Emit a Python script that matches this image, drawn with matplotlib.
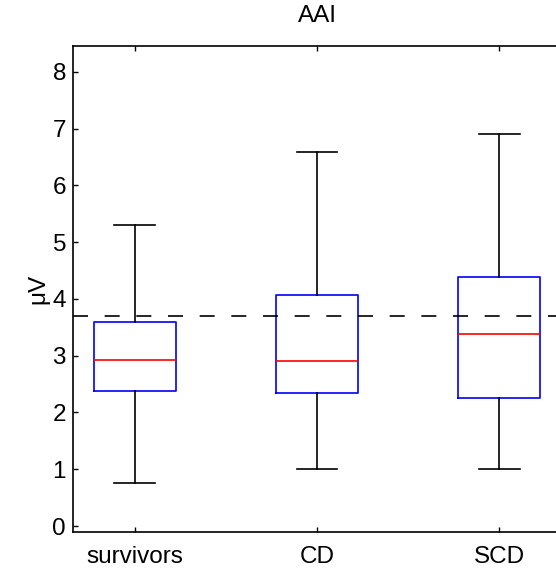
import matplotlib
matplotlib.use("Agg")
import matplotlib.pyplot as plt

plt.rcParams['font.family'] = ['Liberation Sans', 'DejaVu Sans']

# Group names and box statistics (µV)
groups = ["survivors", "CD", "SCD"]
medians = [2.93, 2.90, 3.38]
q1 = [2.38, 2.35, 2.25]
q3 = [3.59, 4.07, 4.38]
whisker_low = [0.76, 1.00, 1.00]
whisker_high = [5.31, 6.59, 6.90]
reference_level = 3.70

stats = []
for name, med, lo_q, hi_q, wl, wh in zip(groups, medians, q1, q3, whisker_low, whisker_high):
    stats.append(dict(label=name, med=med, q1=lo_q, q3=hi_q,
                      whislo=wl, whishi=wh, fliers=[]))

W, H = 556, 570
fig = plt.figure(figsize=(W / 100, H / 100), dpi=100)
left, right, top, bottom = 73, 561, 45.7, 531.7
ax = fig.add_axes([left / W, (H - bottom) / H, (right - left) / W, (bottom - top) / H])

lw = 1.2
ax.bxp(stats, positions=[1, 2, 3], widths=0.45, showfliers=False,
       boxprops=dict(color="#0000ff", linewidth=lw),
       medianprops=dict(color="#ff0000", linewidth=lw),
       whiskerprops=dict(color="black", linewidth=lw),
       capprops=dict(color="black", linewidth=lw),
       capwidths=0.225)

ax.axhline(reference_level, color="black", linewidth=lw, dashes=(9, 10))

ax.set_xlim(0.66, 3.34)
ax.set_ylim(-0.1, 8.46)
ax.set_yticks(range(0, 9))
ax.set_xticks([1, 2, 3])
ax.set_xticklabels(groups)

ax.tick_params(direction="in", length=3.5, width=1.0, labelsize=17.5,
               top=True, right=True, pad=5)
ax.tick_params(axis="x", pad=10)
for s in ax.spines.values():
    s.set_linewidth(1.2)

ax.set_ylabel("μV", fontsize=17.5, labelpad=2)
ax.set_title("AAI", fontsize=17.5, pad=17)

fig.savefig("out.png", dpi=100)
